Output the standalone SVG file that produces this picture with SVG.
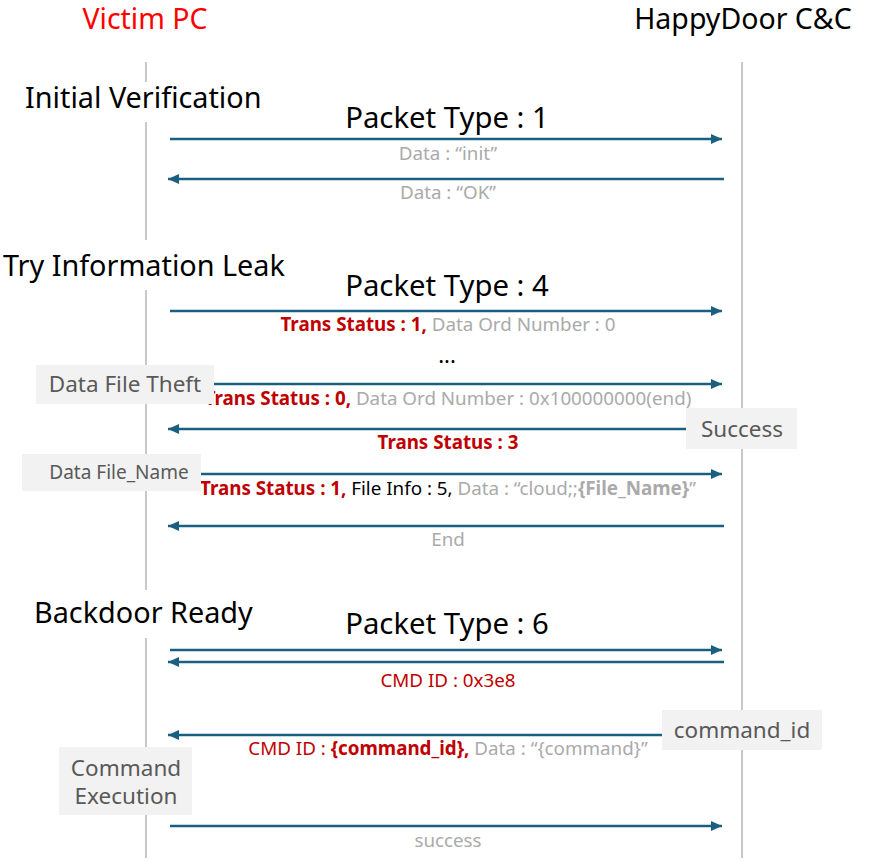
<svg xmlns="http://www.w3.org/2000/svg" width="874" height="862" viewBox="0 0 874 862">
<style>
text{font-family:"Noto Sans","Liberation Sans",sans-serif}
.life{stroke:#c8c8c8;stroke-width:2;fill:none}
.msg{stroke:#1b5f80;stroke-width:2.6;fill:none}
.title{font-size:28.8px;fill:#000}
.head{font-size:28.5px}
.pt{font-size:29.3px;fill:#000;text-anchor:middle}
.lbl{font-size:18.8px;text-anchor:middle;fill:#aaaaaa}
.red{fill:#c00000}
.blk{fill:#000}
.gry{fill:#aaaaaa}
.bold{font-weight:bold}
.box{fill:#f2f2f2}
.btxt{font-size:22.5px;fill:#595959;text-anchor:middle}
</style>
<defs>
<marker id="ah" markerUnits="userSpaceOnUse" markerWidth="12" markerHeight="10" refX="11" refY="5" orient="auto">
<path d="M0,0 L11,5 L0,10 Z" fill="#1b5f80"/>
</marker>
</defs>
<g id="lifelines">
<path class="life" d="M146,62 V82 M146,122 V240 M146,290 V590 M146,638 V858"/>
<path class="life" d="M742,62 V858"/>
</g>
<g id="victim"><text class="head" x="145" y="29" text-anchor="middle" fill="#ff0000">Victim PC</text></g>
<g id="cnc"><text class="head" x="743" y="29" text-anchor="middle" fill="#000">HappyDoor C&amp;C</text></g>
<g id="phase1"><text class="title" x="25" y="108">Initial Verification</text></g>
<g id="phase2"><text class="title" x="3" y="276">Try Information Leak</text></g>
<g id="phase3"><text class="title" x="34" y="623">Backdoor Ready</text></g>
<g id="connectors">
<line class="msg" x1="170" y1="139" x2="722" y2="139" marker-end="url(#ah)"/>
<line class="msg" x1="724" y1="179" x2="168" y2="179" marker-end="url(#ah)"/>
<line class="msg" x1="170" y1="311" x2="722" y2="311" marker-end="url(#ah)"/>
<line class="msg" x1="170" y1="384" x2="722" y2="384" marker-end="url(#ah)"/>
<line class="msg" x1="700" y1="429" x2="168" y2="429" marker-end="url(#ah)"/>
<line class="msg" x1="170" y1="474" x2="722" y2="474" marker-end="url(#ah)"/>
<line class="msg" x1="724" y1="526" x2="168" y2="526" marker-end="url(#ah)"/>
<line class="msg" x1="170" y1="650" x2="722" y2="650" marker-end="url(#ah)"/>
<line class="msg" x1="724" y1="662" x2="168" y2="662" marker-end="url(#ah)"/>
<line class="msg" x1="680" y1="735" x2="168" y2="735" marker-end="url(#ah)"/>
<line class="msg" x1="170" y1="826" x2="722" y2="826" marker-end="url(#ah)"/>
</g>
<g id="labels">
<text class="pt" x="447" y="128">Packet Type : 1</text>
<text class="lbl" x="448" y="160">Data : “init”</text>
<text class="lbl" x="448" y="199">Data : “OK”</text>
<text class="pt" x="447" y="296">Packet Type : 4</text>
<text class="lbl" x="448" y="331"><tspan class="red bold">Trans Status : 1, </tspan><tspan>Data Ord Number : 0</tspan></text>
<text class="lbl blk" x="447" y="363" style="font-size:22px">...</text>
<text class="lbl" x="448" y="405"><tspan class="red bold">Trans Status : 0, </tspan><tspan>Data Ord Number : 0x100000000(end)</tspan></text>
<text class="lbl red bold" x="448" y="449">Trans Status : 3</text>
<text class="lbl" x="448" y="495"><tspan class="red bold">Trans Status : 1, </tspan><tspan class="blk">File Info : 5, </tspan><tspan>Data : “cloud;;</tspan><tspan class="bold">{File_Name}</tspan><tspan>”</tspan></text>
<text class="lbl" x="448" y="546">End</text>
<text class="pt" x="447" y="634">Packet Type : 6</text>
<text class="lbl red" x="448" y="687">CMD ID : 0x3e8</text>
<text class="lbl" x="448" y="755"><tspan class="red">CMD ID : </tspan><tspan class="red bold">{command_id}, </tspan><tspan>Data : “{command}”</tspan></text>
<text class="lbl" x="448" y="847">success</text>
</g>
<g id="n-theft"><rect class="box" x="36" y="365" width="178" height="39"/><text class="btxt" x="125" y="392">Data File Theft</text></g>
<g id="n-success"><rect class="box" x="686" y="408" width="111" height="41"/><text class="btxt" x="742" y="437">Success</text></g>
<g id="n-filename"><rect class="box" x="22" y="454" width="179" height="37"/><text class="btxt" x="119" y="479" style="font-size:19px">Data File_Name</text></g>
<g id="n-cmdid"><rect class="box" x="662" y="710" width="160" height="40"/><text class="btxt" x="742" y="738">command_id</text></g>
<g id="n-exec"><rect class="box" x="59" y="747" width="133" height="68"/><text class="btxt" x="126" y="776">Command</text><text class="btxt" x="126" y="804">Execution</text></g>
</svg>
